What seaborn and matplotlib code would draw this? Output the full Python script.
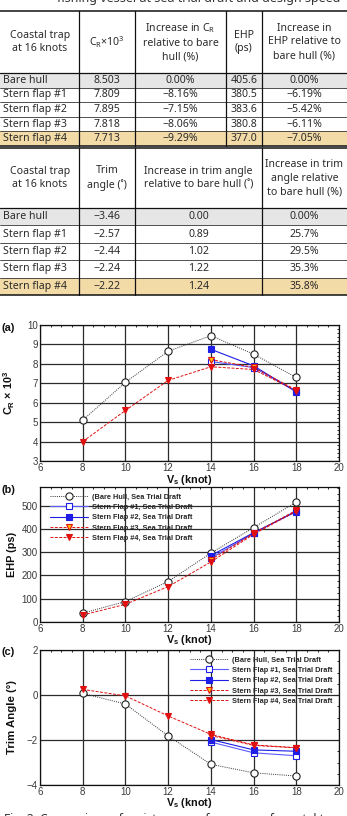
import numpy as np
import pandas as pd
import seaborn as sns
import matplotlib
matplotlib.use("Agg")
import matplotlib.pyplot as plt
from matplotlib.patches import Rectangle
from matplotlib.ticker import AutoMinorLocator, MultipleLocator

# ---------------- data ----------------
speeds = [8, 10, 12, 14, 16, 18]
flap_speeds = [14, 16, 18]

cr_bare = [5.10, 7.05, 8.65, 9.45, 8.50, 7.30]
cr_f1 = [8.12, 7.81, 6.60]
cr_f2 = [8.75, 7.90, 6.55]
cr_f3 = [8.22, 7.82, 6.65]
cr_f4 = [4.00, 5.60, 7.15, 7.85, 7.71, 6.62]

ehp_bare = [38, 88, 174, 296, 405.6, 515]
ehp_f1 = [275, 380.5, 478]
ehp_f2 = [285, 383.6, 474]
ehp_f3 = [268, 380.8, 480]
ehp_f4 = [30, 76, 152, 258, 377.0, 476]

trim_bare = [0.07, -0.40, -1.82, -3.08, -3.46, -3.60]
trim_f1 = [-2.09, -2.57, -2.70]
trim_f2 = [-1.98, -2.44, -2.50]
trim_f3 = [-1.80, -2.24, -2.35]
trim_f4 = [0.25, -0.04, -0.93, -1.75, -2.22, -2.34]

legend_labels = ["(Bare Hull, Sea Trial Draft", "Stern Flap #1, Sea Trial Draft",
                 "Stern Flap #2, Sea Trial Draft", "Stern Flap #3, Sea Trial Draft",
                 "Stern Flap #4, Sea Trial Draft"]

row_names = ["Bare hull", "Stern flap #1", "Stern flap #2", "Stern flap #3", "Stern flap #4"]
t1_header = ["Coastal trap\nat 16 knots", "C$_\\mathregular{R}$×10$^\\mathregular{3}$",
             "Increase in C$_\\mathregular{R}$\nrelative to bare\nhull (%)", "EHP\n(ps)",
             "Increase in\nEHP relative to\nbare hull (%)"]
t1_cr = ["8.503", "7.809", "7.895", "7.818", "7.713"]
t1_cr_inc = ["0.00%", "−8.16%", "−7.15%", "−8.06%", "−9.29%"]
t1_ehp = ["405.6", "380.5", "383.6", "380.8", "377.0"]
t1_ehp_inc = ["0.00%", "−6.19%", "−5.42%", "−6.11%", "−7.05%"]

t2_header = ["Coastal trap\nat 16 knots", "Trim\nangle (˚)",
             "Increase in trim angle\nrelative to bare hull (˚)",
             "Increase in trim\nangle relative\nto bare hull (%)"]
t2_trim = ["−3.46", "−2.57", "−2.44", "−2.24", "−2.22"]
t2_inc = ["0.00", "0.89", "1.02", "1.22", "1.24"]
t2_pct = ["0.00%", "25.7%", "29.5%", "35.3%", "35.8%"]

top_caption = "fishing vessel at sea trial draft and design speed"
bottom_caption = "Fig. 3. Comparison of resistance performance of coastal trap fishing vessel"

# ---------------- style ----------------
sns.set_style("white")
plt.rcParams["font.family"] = ["Liberation Sans", "DejaVu Sans"]
plt.rcParams["mathtext.fontset"] = "custom"
plt.rcParams["mathtext.rm"] = "Liberation Sans"
plt.rcParams["mathtext.bf"] = "Liberation Sans:bold"

W, H = 347, 816
fig = plt.figure(figsize=(W / 100, H / 100), dpi=100)

# overlay axes in pixel coordinates for the tables
ov = fig.add_axes([0, 0, 1, 1])
ov.set_xlim(0, W)
ov.set_ylim(H, 0)
ov.axis("off")

tfont = dict(family=["Noto Sans", "DejaVu Sans"], fontsize=7.6, color="#2a2a2a")

ov.text(340, -1.5, top_caption, ha="right", va="center", fontsize=9,
        family=["Noto Sans", "DejaVu Sans"], color="#333")

row_bg = {0: "#e6e6e6", 4: "#f3dba8"}


def draw_table(top, header_h, row_h, vlines, header, header_x, cols, col_x):
    hb = top + header_h
    bottom = hb + row_h * len(row_names)
    for i in range(len(row_names)):
        y0 = hb + i * row_h
        if i in row_bg:
            ov.add_patch(Rectangle((0, y0), W, row_h, facecolor=row_bg[i], edgecolor="none", zorder=0))
    ov.plot([0, W], [top, top], color="#111", lw=1.1, zorder=2)
    ov.plot([0, W], [hb, hb], color="#111", lw=0.9, zorder=2)
    for i in range(1, len(row_names)):
        y = hb + i * row_h
        ov.plot([0, W], [y, y], color="#333", lw=0.6, zorder=2)
    ov.plot([0, W], [bottom, bottom], color="#111", lw=1.1, zorder=2)
    for x in vlines:
        ov.plot([x, x], [top, bottom], color="#111", lw=0.9, zorder=2)
    for txt, x in zip(header, header_x):
        ov.text(x, top + header_h / 2, txt, ha="center", va="center",
                linespacing=1.35, **tfont)
    for i, name in enumerate(row_names):
        yc = hb + (i + 0.5) * row_h
        ov.text(3, yc, name, ha="left", va="center", **tfont)
        for col, x in zip(cols, col_x):
            ov.text(x, yc, col[i], ha="center", va="center", **tfont)


draw_table(11, 62, 14.6, [79, 135, 226, 262], t1_header, [40, 107, 180.5, 244, 304.5],
           [t1_cr, t1_cr_inc, t1_ehp, t1_ehp_inc], [107, 180.5, 244, 304.5])
draw_table(148, 60, 17.4, [79, 135, 262], t2_header, [40, 107, 198.5, 304.5],
           [t2_trim, t2_inc, t2_pct], [107, 198.5, 304.5])

ov.text(4, 812.5, bottom_caption, ha="left", va="top", fontsize=8.6,
        family=["Noto Sans", "DejaVu Sans"], color="#333")

# ---------------- charts ----------------
def make_ax(top, bottom):
    return fig.add_axes([40 / W, 1 - bottom / H, 299 / W, (bottom - top) / H])


ax_a = make_ax(325, 461)
ax_b = make_ax(487, 622)
ax_c = make_ax(650, 785)

blue_l = "#5a5aff"
blue = "#1e1ee6"
red = "#e01010"

styles = [
    dict(color="#333", linestyle=(0, (1, 1.2)), lw=0.7, marker="o", markerfacecolor="white",
         markeredgecolor="#222", markersize=5.2, markeredgewidth=0.8),
    dict(color=blue_l, linestyle="-", lw=0.8, marker="s", markerfacecolor="white",
         markeredgecolor=blue, markersize=4.4, markeredgewidth=0.8),
    dict(color=blue, linestyle="-", lw=0.8, marker="s", markerfacecolor=blue,
         markeredgecolor=blue, markersize=4.4, markeredgewidth=0.8),
    dict(color=red, linestyle=(0, (3, 1.5)), lw=0.7, marker="v", markerfacecolor="#ffc000",
         markeredgecolor=red, markersize=5.0, markeredgewidth=0.8),
    dict(color=red, linestyle=(0, (3, 1.5)), lw=0.7, marker="v", markerfacecolor=red,
         markeredgecolor=red, markersize=5.0, markeredgewidth=0.8),
]

series = {
    "a": [cr_bare, cr_f1, cr_f2, cr_f3, cr_f4],
    "b": [ehp_bare, ehp_f1, ehp_f2, ehp_f3, ehp_f4],
    "c": [trim_bare, trim_f1, trim_f2, trim_f3, trim_f4],
}
xs = [speeds, flap_speeds, flap_speeds, flap_speeds, speeds]

for key, ax in zip("abc", [ax_a, ax_b, ax_c]):
    for i, (x, y) in enumerate(zip(xs, series[key])):
        sns.lineplot(x=x, y=y, ax=ax, label=legend_labels[i], estimator=None,
                     zorder=3 + i, **styles[i])
    ax.set_xlim(6, 20)
    ax.xaxis.set_major_locator(MultipleLocator(2))
    ax.xaxis.set_minor_locator(AutoMinorLocator(4))
    ax.yaxis.set_minor_locator(AutoMinorLocator(4))
    ax.grid(True, which="major", color="#2b2b2b", lw=0.9, zorder=1)
    ax.tick_params(which="both", direction="in", top=True, right=True,
                   labelsize=7.0, labelcolor="#3a3a3a", pad=1.5, width=0.7)
    ax.tick_params(which="major", length=3)
    ax.tick_params(which="minor", length=1.6)
    for s in ax.spines.values():
        s.set_color("#111")
        s.set_linewidth(0.9)
    ax.set_xlabel("V$_\\mathregular{s}$ (knot)", fontsize=7.8, fontweight="bold", color="#111")
    ax.xaxis.set_label_coords(0.5, -0.085)
    ax.set_axisbelow(True)

ax_a.set_ylim(3, 10)
ax_a.yaxis.set_major_locator(MultipleLocator(1))
ax_a.yaxis.set_minor_locator(AutoMinorLocator(5))
ax_a.set_ylabel("C$_\\mathregular{R}$ × 10$^\\mathregular{3}$", fontsize=7.8, fontweight="bold", color="#111")
ax_a.get_legend().remove()

leg_kw = dict(frameon=False, prop=dict(family="Liberation Sans", weight="bold", size=5.3),
              handlelength=5.2, handletextpad=0.5, labelspacing=0.42, borderpad=0.4,
              numpoints=1)

ax_b.set_ylim(0, 580)
ax_b.yaxis.set_major_locator(MultipleLocator(100))
ax_b.set_ylabel("EHP (ps)", fontsize=7.8, fontweight="bold", color="#111")
ax_b.legend(loc="upper left", bbox_to_anchor=(0.012, 1.0), **leg_kw)

ax_c.set_ylim(-4, 2)
ax_c.yaxis.set_major_locator(MultipleLocator(2))
ax_c.set_ylabel("Trim Angle (°)", fontsize=8.2, fontweight="bold", color="#111")
ax_c.legend(loc="upper right", bbox_to_anchor=(1.0, 1.0), **leg_kw)

for ax in (ax_a, ax_b, ax_c):
    ax.yaxis.set_label_coords(-0.078, 0.5)

for lab, y in zip(["(a)", "(b)", "(c)"], [328, 490, 652]):
    ov.text(2, y, lab, ha="left", va="center", fontsize=7.8, fontweight="bold", color="#111")

fig.savefig("out.png", dpi=100)
